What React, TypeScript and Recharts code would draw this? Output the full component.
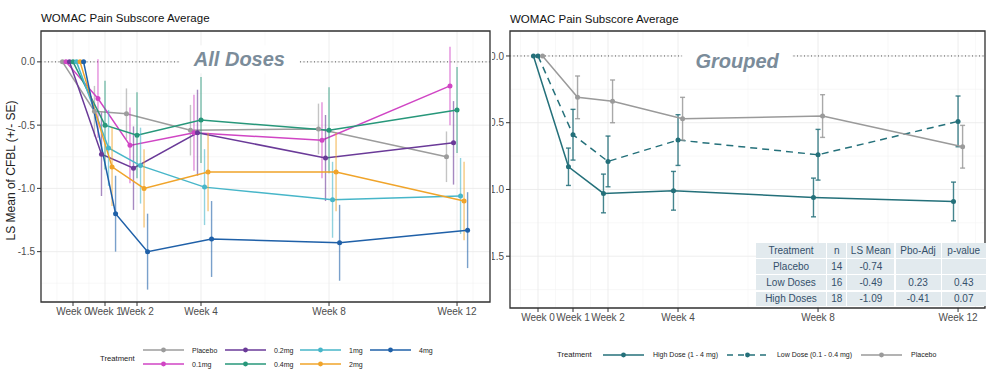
import React from 'react';
import {
  LineChart,
  Line,
  XAxis,
  YAxis,
  CartesianGrid,
  ErrorBar,
  ReferenceLine,
  ReferenceDot,
  ReferenceArea,
} from 'recharts';

const FONT = '"Liberation Sans", Arial, sans-serif';

// x axis
const weeks = [0, 1, 2, 4, 8, 12];
const yTicks = [0, -0.5, -1, -1.5];
const minorX = [-0.5, 0.5, 1.5, 3, 6, 10, 12.5];
const minorY = [-0.25, -0.75, -1.25, -1.75];

// left panel: all doses (LS mean, SE)
const doseNames = ['Placebo', '0.1mg', '0.2mg', '0.4mg', '1mg', '2mg', '4mg'];
const placeboMean = [0, -0.39, -0.41, -0.54, -0.53, -0.75];
const placeboSe = [0, 0.2, 0.2, 0.2, 0.2, 0.2];
const dose01Mean = [0, -0.29, -0.66, -0.56, -0.62, -0.19];
const dose01Se = [0, 0.31, 0.3, 0.3, 0.3, 0.31];
const dose02Mean = [0, -0.73, -0.84, -0.56, -0.76, -0.64];
const dose02Se = [0, 0.33, 0.33, 0.34, 0.34, 0.33];
const dose04Mean = [0, -0.5, -0.58, -0.46, -0.54, -0.38];
const dose04Se = [0, 0.35, 0.34, 0.34, 0.34, 0.34];
const dose1Mean = [0, -0.68, -0.82, -0.99, -1.09, -1.06];
const dose1Se = [0, 0.3, 0.3, 0.3, 0.3, 0.3];
const dose2Mean = [0, -0.83, -1.0, -0.87, -0.87, -1.1];
const dose2Se = [0, 0.31, 0.31, 0.31, 0.31, 0.31];
const dose4Mean = [0, -1.2, -1.5, -1.4, -1.43, -1.33];
const dose4Se = [0, 0.3, 0.3, 0.3, 0.3, 0.3];

// right panel: grouped
const groupNames = ['High Dose (1 - 4 mg)', 'Low Dose (0.1 - 0.4 mg)', 'Placebo'];
const highMean = [0, -0.83, -1.03, -1.01, -1.06, -1.09];
const highSe = [0, 0.14, 0.145, 0.145, 0.145, 0.145];
const lowMean = [0, -0.59, -0.79, -0.63, -0.74, -0.49];
const lowSe = [0, 0.19, 0.19, 0.19, 0.19, 0.19];
const grpPlaceboMean = [0, -0.31, -0.34, -0.47, -0.45, -0.68];
const grpPlaceboSe = [0, 0.16, 0.16, 0.16, 0.16, 0.16];

// summary table
const tableHeader = ['Treatment', 'n', 'LS Mean', 'Pbo-Adj', 'p-value'];
const tableRows = [
  ['Placebo', '14', '-0.74', '', ''],
  ['Low Doses', '16', '-0.49', '0.23', '0.43'],
  ['High Doses', '18', '-1.09', '-0.41', '0.07'],
];

const doseColors = ['#9c9c9c', '#d045c4', '#6a3a98', '#27977a', '#47b6c9', '#f0a42a', '#1f60a8'];
const doseDodge = [-0.33, -0.22, -0.11, 0, 0.11, 0.22, 0.33];
const TEAL = '#24707a';
const groupColors = [TEAL, TEAL, '#9a9a9a'];
const groupDodge = [-0.13, 0, 0.13];

const build = (mean: number[], se: number[], dodge: number) =>
  weeks.map((w, i) => ({ x: w + dodge, y: mean[i], se: se[i] }));

const doseSeries = [
  build(placeboMean, placeboSe, doseDodge[0]),
  build(dose01Mean, dose01Se, doseDodge[1]),
  build(dose02Mean, dose02Se, doseDodge[2]),
  build(dose04Mean, dose04Se, doseDodge[3]),
  build(dose1Mean, dose1Se, doseDodge[4]),
  build(dose2Mean, dose2Se, doseDodge[5]),
  build(dose4Mean, dose4Se, doseDodge[6]),
];

const groupSeries = [
  build(highMean, highSe, groupDodge[0]),
  build(lowMean, lowSe, groupDodge[1]),
  build(grpPlaceboMean, grpPlaceboSe, groupDodge[2]),
];

const labelShape = (text: string, boxW: number) => (props: any) => {
  const { cx, cy } = props;
  return (
    <g>
      <rect x={cx - boxW / 2} y={cy - 14} width={boxW} height={28} fill="#fff" />
      <text
        x={cx}
        y={cy}
        textAnchor="middle"
        dominantBaseline="central"
        fontFamily={FONT}
        fontSize={20}
        fontWeight="bold"
        fontStyle="italic"
        fill="#7b8c9a"
      >
        {text}
      </text>
    </g>
  );
};

const Title = ({ left, top }: { left: number; top: number }) => (
  <div
    style={{
      position: 'absolute',
      left,
      top,
      fontFamily: FONT,
      fontSize: 11.5,
      lineHeight: 1,
      color: '#111',
      whiteSpace: 'nowrap',
    }}
  >
    WOMAC Pain Subscore Average
  </div>
);

const KeySwatch = ({ color, dashed }: { color: string; dashed?: boolean }) => (
  <svg width={41} height={8} style={{ display: 'block', flex: 'none' }}>
    <line
      x1={0}
      y1={4}
      x2={41}
      y2={4}
      stroke={color}
      strokeWidth={1.6}
      strokeDasharray={dashed ? '6 5' : undefined}
    />
    <circle cx={20.5} cy={4} r={2.4} fill={color} />
  </svg>
);

const LeftLegend = () => {
  const colW = [82, 75, 70, 60];
  return (
    <div
      style={{
        position: 'absolute',
        left: 100,
        top: 343,
        display: 'flex',
        alignItems: 'center',
        fontFamily: FONT,
        color: '#222',
      }}
    >
      <div style={{ width: 43, fontSize: 7.7, paddingTop: 2 }}>Treatment</div>
      <div
        style={{
          display: 'grid',
          gridAutoFlow: 'column',
          gridTemplateRows: '14px 14px',
          gridTemplateColumns: colW.map((w) => `${w}px`).join(' '),
        }}
      >
        {doseNames.map((n, i) => (
          <div key={n} style={{ display: 'flex', alignItems: 'center', fontSize: 7 }}>
            <KeySwatch color={doseColors[i]} />
            <span style={{ marginLeft: 8 }}>{n}</span>
          </div>
        ))}
      </div>
    </div>
  );
};

const RightLegend = () => (
  <div
    style={{
      position: 'absolute',
      left: 557,
      top: 350,
      display: 'flex',
      alignItems: 'center',
      fontFamily: FONT,
      color: '#222',
      whiteSpace: 'nowrap',
    }}
  >
    <div style={{ width: 46, fontSize: 7.7 }}>Treatment</div>
    {groupNames.map((n, i) => (
      <div key={n} style={{ display: 'flex', alignItems: 'center', fontSize: 7, marginRight: 9 }}>
        <KeySwatch color={groupColors[i]} dashed={i === 1} />
        <span style={{ marginLeft: 9 }}>{n}</span>
      </div>
    ))}
  </div>
);

const SummaryTable = () => {
  const colW = [70, 19, 47, 45, 44];
  const rowH = [15, 15, 15, 14];
  const rows = [tableHeader, ...tableRows];
  return (
    <div
      style={{
        position: 'absolute',
        left: 756,
        top: 243,
        display: 'grid',
        gridTemplateColumns: colW.map((w) => `${w}px`).join(' '),
        gridTemplateRows: rowH.map((h) => `${h}px`).join(' '),
        gap: 1.2,
        background: '#fff',
        fontFamily: FONT,
        fontSize: 10,
        color: '#34506b',
        zIndex: 3,
      }}
    >
      {rows.map((r, ri) =>
        r.map((c, ci) => (
          <div
            key={`${ri}-${ci}`}
            style={{
              background: '#e2eaee',
              display: 'flex',
              alignItems: 'center',
              justifyContent: 'center',
              whiteSpace: 'nowrap',
            }}
          >
            {c}
          </div>
        ))
      )}
    </div>
  );
};

interface PanelProps {
  width: number;
  margin: { top: number; right: number; bottom: number; left: number };
  yWidth: number;
  xDomain: [number, number];
  yDomain: [number, number];
  series: { x: number; y: number; se: number }[][];
  colors: string[];
  names: string[];
  dashed?: boolean[];
  capWidth: number;
  errOpacity: number;
  label: string;
  labelAt: { x: number; y: number; w: number };
  yLabel?: string;
}

const Panel = (p: PanelProps) => (
  <LineChart width={p.width} height={374} margin={p.margin}>
    <CartesianGrid
      verticalValues={minorX}
      horizontalValues={minorY}
      stroke="#f3f3f3"
      strokeWidth={0.6}
    />
    <CartesianGrid stroke="#ebebeb" strokeWidth={0.9} />
    <XAxis
      type="number"
      dataKey="x"
      domain={p.xDomain}
      allowDataOverflow
      ticks={weeks}
      interval={0}
      tickFormatter={(w: number) => `Week ${w}`}
      tick={{ fontSize: 10, fill: '#4d4d4d', fontFamily: FONT }}
      tickSize={4}
      tickLine={{ stroke: '#333' }}
      axisLine={false}
      height={30}
    />
    <YAxis
      type="number"
      domain={p.yDomain}
      allowDataOverflow
      ticks={yTicks}
      interval={0}
      tickFormatter={(v: number) => v.toFixed(1)}
      tick={{ fontSize: 10, fill: '#4d4d4d', fontFamily: FONT }}
      tickSize={4}
      tickLine={{ stroke: '#333' }}
      axisLine={false}
      width={p.yWidth}
      label={
        p.yLabel
          ? {
              value: p.yLabel,
              angle: -90,
              position: 'insideLeft',
              offset: 11,
              dy: 4,
              style: { textAnchor: 'middle', fontSize: 12, fill: '#222', fontFamily: FONT },
            }
          : undefined
      }
    />
    <ReferenceLine y={0} stroke="#555" strokeDasharray="1 2.5" strokeWidth={1} />
    <ReferenceDot
      x={p.labelAt.x}
      y={p.labelAt.y}
      r={0}
      shape={labelShape(p.label, p.labelAt.w)}
    />
    {p.series.map((d, i) => (
      <Line
        key={p.names[i]}
        data={d}
        dataKey="y"
        name={p.names[i]}
        stroke={p.colors[i]}
        strokeWidth={1.5}
        strokeDasharray={p.dashed && p.dashed[i] ? '7 5' : undefined}
        dot={{ r: 2.5, fill: p.colors[i], stroke: p.colors[i], strokeWidth: 0 }}
        activeDot={false}
        isAnimationActive={false}
      >
        <ErrorBar
          dataKey="se"
          direction="y"
          width={p.capWidth}
          stroke={p.colors[i]}
          strokeWidth={1.4}
          strokeOpacity={p.errOpacity}
          isAnimationActive={false}
        />
      </Line>
    ))}
    <ReferenceArea
      x1={p.xDomain[0]}
      x2={p.xDomain[1]}
      y1={p.yDomain[0]}
      y2={p.yDomain[1]}
      fill="none"
      fillOpacity={0}
      stroke="#333"
      strokeWidth={1.3}
      ifOverflow="visible"
    />
  </LineChart>
);

export default function App() {
  return (
    <div
      style={{
        position: 'absolute',
        left: 0,
        top: 0,
        width: 996,
        height: 374,
        background: '#fff',
        overflow: 'hidden',
      }}
    >
      <div style={{ position: 'absolute', left: 455, top: 0, width: 541, height: 374 }}>
        <Panel
          width={541}
          margin={{ top: 31, right: 11, bottom: 36, left: 0 }}
          yWidth={55}
          xDomain={[-0.8, 12.77]}
          yDomain={[-1.888, 0.187]}
          series={groupSeries}
          colors={groupColors}
          names={groupNames}
          dashed={[false, true, false]}
          capWidth={2.5}
          errOpacity={0.85}
          label="Grouped"
          labelAt={{ x: 5.69, y: -0.034, w: 110 }}
        />
      </div>
      <div
        style={{
          position: 'absolute',
          left: 0,
          top: 0,
          width: 492,
          height: 374,
          background: '#fff',
          zIndex: 2,
        }}
      >
        <Panel
          width={492}
          margin={{ top: 31, right: 2, bottom: 42, left: 0 }}
          yWidth={41}
          xDomain={[-1.0, 13.03]}
          yDomain={[-1.898, 0.244]}
          series={doseSeries}
          colors={doseColors}
          names={doseNames}
          capWidth={0}
          errOpacity={0.6}
          label="All Doses"
          labelAt={{ x: 5.2, y: 0.02, w: 120 }}
          yLabel="LS Mean of CFBL (+/- SE)"
        />
      </div>
      <div style={{ position: 'absolute', left: 0, top: 0, zIndex: 3 }}>
        <Title left={41} top={13} />
        <Title left={510} top={14} />
        <LeftLegend />
        <RightLegend />
      </div>
      <SummaryTable />
    </div>
  );
}
